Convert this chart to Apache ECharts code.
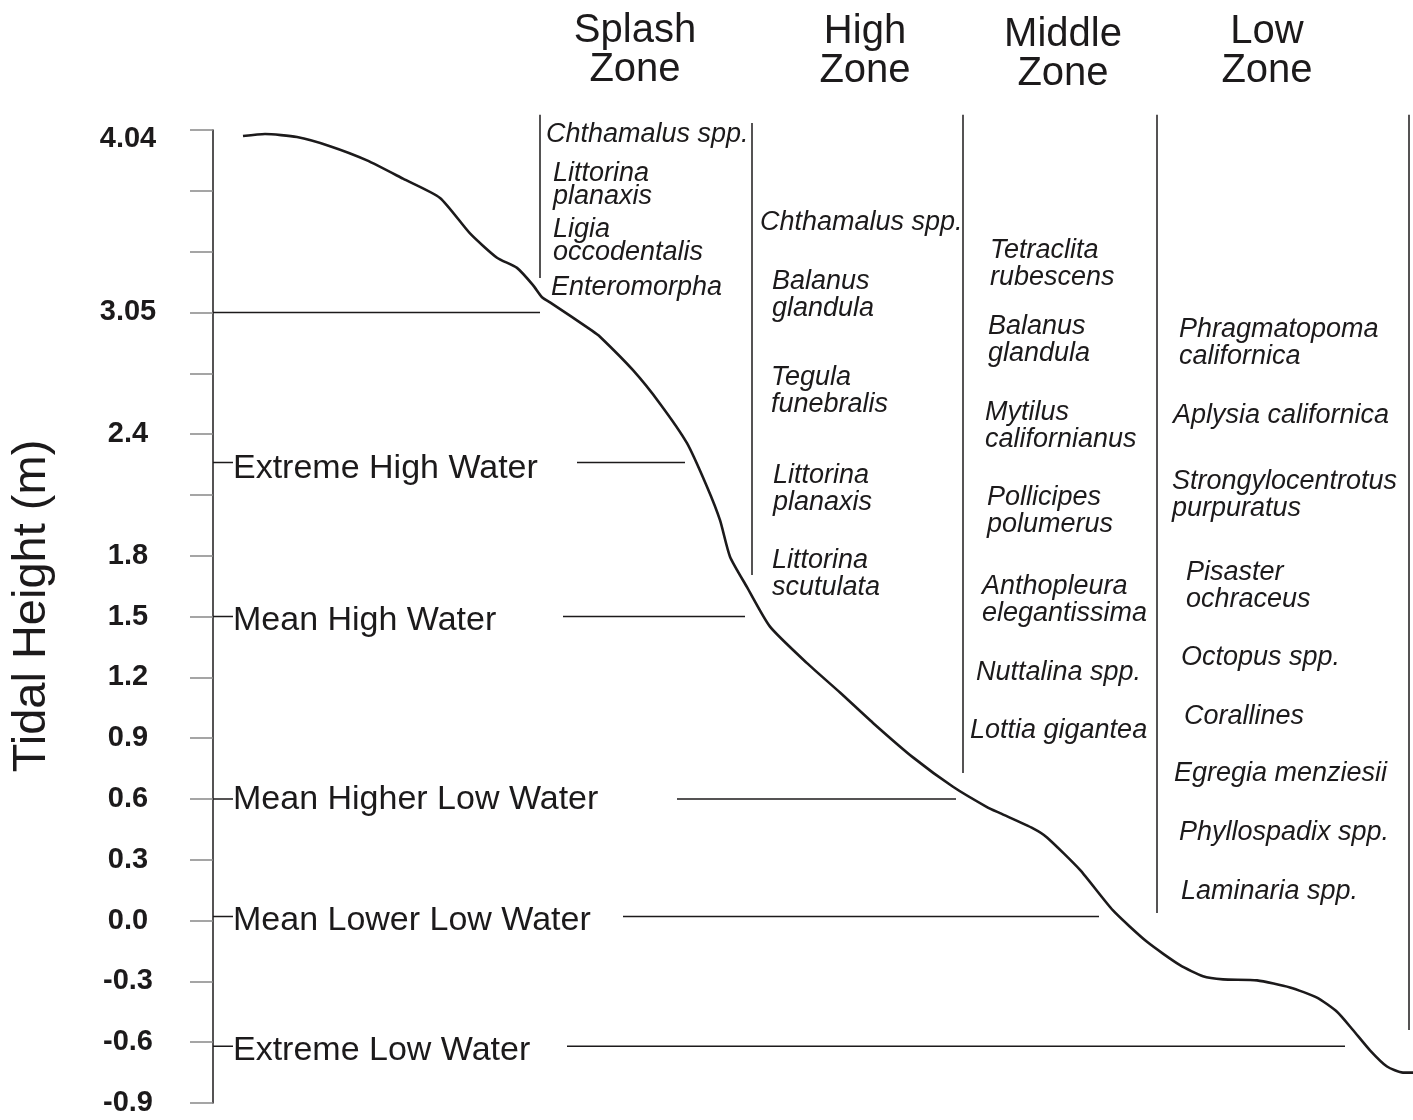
<!DOCTYPE html>
<html>
<head>
<meta charset="utf-8">
<script src="https://cdn.jsdelivr.net/npm/echarts@6/dist/echarts.min.js"></script>
<style>html,body{margin:0;padding:0;background:#fff;}#c{width:1413px;height:1120px;}</style>
</head>
<body>
<div id="c"></div>
<script>
// ---- Data ----
// Shore profile (x: distance along shore in arbitrary units, y: tidal height in axis units)
const profileX = [30,52,84,117,154,190,227,257,284,304,320,329,337,379,387,420,447,474,494,507,517,534,557,594,627,660,700,740,774,787,820,834,867,900,934,967,990,1010,1044,1077,1104,1124,1140,1157,1174,1190,1200];
const profileY = [3.87,3.88,3.865,3.82,3.75,3.66,3.565,3.39,3.27,3.22,3.135,3.075,3.05,2.91,2.88,2.715,2.55,2.355,2.14,1.975,1.795,1.645,1.45,1.27,1.125,0.975,0.805,0.66,0.56,0.53,0.455,0.41,0.25,0.05,-0.105,-0.22,-0.275,-0.29,-0.295,-0.33,-0.38,-0.45,-0.54,-0.64,-0.72,-0.75,-0.75];

// Y axis ticks
const tickValues = [3.9,3.6,3.3,3.0,2.7,2.4,2.1,1.8,1.5,1.2,0.9,0.6,0.3,0.0,-0.3,-0.6,-0.9];
const tickLabels = ['4.04','','','3.05','','2.4','','1.8','1.5','1.2','0.9','0.6','0.3','0.0','-0.3','-0.6','-0.9'];

// Tidal levels
const levelNames = ['Extreme High Water','Mean High Water','Mean Higher Low Water','Mean Lower Low Water','Extreme Low Water'];
const levelHeights = [2.26, 1.5, 0.6, 0.02, -0.62];
const levelLineStart = [364, 350, 464, 410, 354];
const levelLineEnd = [472, 532, 743, 886, 1132];
const splashLevel = 3.0;      // 3.05 m line
const splashLevelEnd = 327;

// Zones
const zoneNames = ['Splash\nZone','High\nZone','Middle\nZone','Low\nZone'];
const dividerX = [327, 539, 750, 944, 1196];
const dividerTop = [3.975, 3.935, 3.975, 3.975, 3.975];
const dividerBottom = [3.17, 1.705, 0.728, 0.037, -0.54];

// Species per zone
const splashSpecies = ['Chthamalus spp.','Littorina\nplanaxis','Ligia\noccodentalis','Enteromorpha'];
const highSpecies = ['Chthamalus spp.','Balanus\nglandula','Tegula\nfunebralis','Littorina\nplanaxis','Littorina\nscutulata'];
const middleSpecies = ['Tetraclita\nrubescens','Balanus\nglandula','Mytilus\ncalifornianus','Pollicipes\npolumerus','Anthopleura\nelegantissima','Nuttalina spp.','Lottia gigantea'];
const lowSpecies = ['Phragmatopoma\ncalifornica','Aplysia californica','Strongylocentrotus\npurpuratus','Pisaster\nochraceus','Octopus spp.','Corallines','Egregia menziesii','Phyllospadix spp.','Laminaria spp.'];

// ---- Layout (pixel positions of text annotations) ----
const zoneHeaderPos = [[635,50],[865,51],[1063,54],[1267,51]];
const splashPos = [[546,134],[553,185],[553,241],[551,287]];
const highPos = [[760,222],[772,295],[771,391],[773,489],[772,574]];
const middlePos = [[990,264],[988,340],[985,426],[987,511],[982,600],[976,672],[970,730]];
const lowPos = [[1179,343],[1173,415],[1172,495],[1186,586],[1181,657],[1184,716],[1174,773],[1179,832],[1181,891]];
const levelLabelOffsetY = [6, 4, 1, 4, 4];

const INK = '#1c1a1b';
const SANS = '"Liberation Sans", Arial, Helvetica, sans-serif';

const chart = echarts.init(document.getElementById('c'));

const series = [];
series.push({
  type: 'line',
  data: profileX.map((x, i) => [x, profileY[i]]),
  showSymbol: false, symbol: 'none', smooth: 0.2,
  lineStyle: { color: INK, width: 2.6 },
  z: 5
});
// 3.05 line
series.push({
  type: 'line', symbol: 'none',
  data: [[0, splashLevel], [splashLevelEnd, splashLevel]],
  lineStyle: { color: INK, width: 1.5 }
});
levelNames.forEach((name, i) => {
  series.push({
    type: 'line', symbol: 'none',
    data: [[0, levelHeights[i]], [20, levelHeights[i]]],
    lineStyle: { color: INK, width: 1.5 },
    endLabel: {
      show: true, formatter: name, distance: 0, offset: [0, levelLabelOffsetY[i]],
      fontFamily: SANS, fontSize: 34, color: INK
    }
  });
  series.push({
    type: 'line', symbol: 'none',
    data: [[levelLineStart[i], levelHeights[i]], [levelLineEnd[i], levelHeights[i]]],
    lineStyle: { color: INK, width: 1.5 }
  });
});
dividerX.forEach((x, i) => {
  series.push({
    type: 'line', symbol: 'none', clip: false,
    data: [[x, dividerTop[i]], [x, dividerBottom[i]]],
    lineStyle: { color: INK, width: 1.5 }
  });
});

const graphic = [];
zoneNames.forEach((z, i) => {
  graphic.push({
    type: 'text', x: zoneHeaderPos[i][0], y: zoneHeaderPos[i][1],
    style: { text: z, fill: INK, font: '40px ' + SANS, align: 'center', verticalAlign: 'middle', lineHeight: 39 }
  });
});
function addSpecies(names, pos, lh) {
  names.forEach((n, i) => {
    graphic.push({
      type: 'text', x: pos[i][0], y: pos[i][1],
      style: { text: n, fill: INK, font: 'italic 27px ' + SANS, align: 'left', verticalAlign: 'middle', lineHeight: lh }
    });
  });
}
addSpecies(splashSpecies, splashPos, 23);
addSpecies(highSpecies, highPos, 27);
addSpecies(middleSpecies, middlePos, 27);
addSpecies(lowSpecies, lowPos, 27);
// Axis title
graphic.push({
  type: 'text', x: 32, y: 606, rotation: Math.PI / 2,
  style: { text: 'Tidal Height (m)', fill: INK, font: '47px ' + SANS, align: 'center', verticalAlign: 'middle' }
});

chart.setOption({
  animation: false,
  backgroundColor: '#fff',
  grid: { left: 213, right: 0, top: 130, bottom: 17 },
  xAxis: { type: 'value', min: 0, max: 1200, show: false },
  yAxis: {
    type: 'value', min: -0.9, max: 3.9, interval: 0.3,
    axisLine: { show: true, lineStyle: { color: INK, width: 1.5 } },
    axisTick: { show: true, length: 23, lineStyle: { color: '#888', width: 1.5 } },
    splitLine: { show: false },
    axisLabel: {
      margin: 85, align: 'center',
      fontFamily: SANS,
      fontWeight: 'bold', fontSize: 29, color: INK,
      rich: { top: { fontFamily: SANS, fontWeight: 'bold', fontSize: 29, color: INK, padding: [18, 0, 0, 0] } },
      formatter: function (v) {
        const idx = tickValues.findIndex(t => Math.abs(t - v) < 1e-6);
        if (idx < 0) return '';
        return idx === 0 ? '{top|' + tickLabels[idx] + '}' : tickLabels[idx];
      }
    }
  },
  series: series,
  graphic: graphic
});
</script>
</body>
</html>
